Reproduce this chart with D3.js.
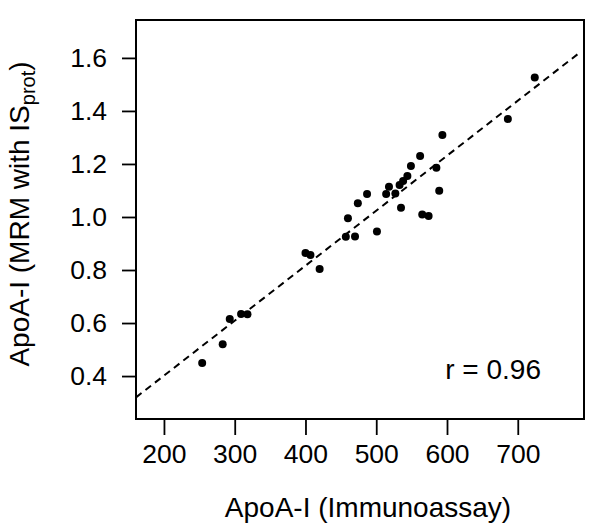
<!DOCTYPE html>
<html>
<head>
<meta charset="utf-8">
<script src="https://cdn.jsdelivr.net/npm/d3@7"></script>
<style>
  body { margin: 0; background: #fff; }
  svg { font-family: Arial, "Liberation Sans", sans-serif; }
</style>
</head>
<body>
<svg id="chart" width="600" height="530"></svg>
<script>
// valores (immunoassay vs MRM)
const immuno = [254, 283, 293, 309, 318, 400, 407, 420, 457, 460, 470, 474, 487, 501,
  514, 518, 527, 533, 535, 538, 544, 549, 562, 565, 574, 585, 589, 593.5, 686, 724];
const mrm = [0.449, 0.520, 0.615, 0.634, 0.633, 0.864, 0.857, 0.804, 0.925, 0.995, 0.926, 1.052, 1.087, 0.945,
  1.087, 1.114, 1.089, 1.121, 1.035, 1.136, 1.155, 1.192, 1.230, 1.009, 1.004, 1.186, 1.099, 1.309, 1.370, 1.526];
const xTicks = [200, 300, 400, 500, 600, 700];
const yTicks = [0.4, 0.6, 0.8, 1.0, 1.2, 1.4, 1.6];
const fitLine = { slope: 0.002074, intercept: -0.0133 };
const rLabel = "r = 0.96";

const mLeft = 136, mRight = 584, mTop = 20, mBottom = 419;
const svg = d3.select("#chart");

const x = d3.scaleLinear().domain([160.5, 793.6]).range([mLeft, mRight]);
const y = d3.scaleLinear().domain([0.238, 1.743]).range([mBottom, mTop]);

// eixo x
const xAxis = svg.append("g")
  .attr("transform", "translate(0," + mBottom + ")")
  .call(d3.axisBottom(x).tickValues(xTicks).tickSize(16).tickPadding(9).tickFormat(d3.format("d")));
xAxis.select(".domain").remove();

// eixo y
const yAxis = svg.append("g")
  .attr("transform", "translate(" + mLeft + ",0)")
  .call(d3.axisLeft(y).tickValues(yTicks).tickSize(14).tickPadding(15).tickFormat(d3.format(".1f")));
yAxis.select(".domain").remove();

svg.selectAll(".tick line").attr("stroke", "#000").attr("stroke-width", 1.8);
svg.selectAll(".tick text").attr("font-size", 26.5).attr("fill", "#000");
xAxis.attr("font-family", null);
yAxis.attr("font-family", null);

// caixa do gráfico
svg.append("rect")
  .attr("x", mLeft).attr("y", mTop)
  .attr("width", mRight - mLeft).attr("height", mBottom - mTop)
  .attr("fill", "none").attr("stroke", "#000").attr("stroke-width", 2);

// linha de regressão tracejada
const x0 = x.domain()[0], x1 = 789.4;
svg.append("line")
  .attr("x1", x(x0)).attr("y1", y(fitLine.intercept + fitLine.slope * x0))
  .attr("x2", x(x1)).attr("y2", y(fitLine.intercept + fitLine.slope * x1))
  .attr("stroke", "#000").attr("stroke-width", 2).attr("stroke-dasharray", "7,5");

// pontos
svg.append("g").selectAll("circle")
  .data(immuno.map((v, i) => [v, mrm[i]]))
  .join("circle")
  .attr("cx", d => x(d[0]))
  .attr("cy", d => y(d[1]))
  .attr("r", 4)
  .attr("fill", "#000");

svg.append("text")
  .attr("x", 541).attr("y", 379)
  .attr("text-anchor", "end")
  .attr("font-size", 28)
  .text(rLabel);

// títulos dos eixos
svg.append("text")
  .attr("x", 368).attr("y", 517)
  .attr("text-anchor", "middle")
  .attr("font-size", 28)
  .text("ApoA-I (Immunoassay)");

const yt = svg.append("text")
  .attr("transform", "translate(29,214) rotate(-90)")
  .attr("text-anchor", "middle")
  .attr("font-size", 28);
yt.append("tspan").text("ApoA-I (MRM with IS");
yt.append("tspan").attr("font-size", 20).attr("dy", 6).text("prot");
yt.append("tspan").attr("dy", -6).text(")");
</script>
</body>
</html>
